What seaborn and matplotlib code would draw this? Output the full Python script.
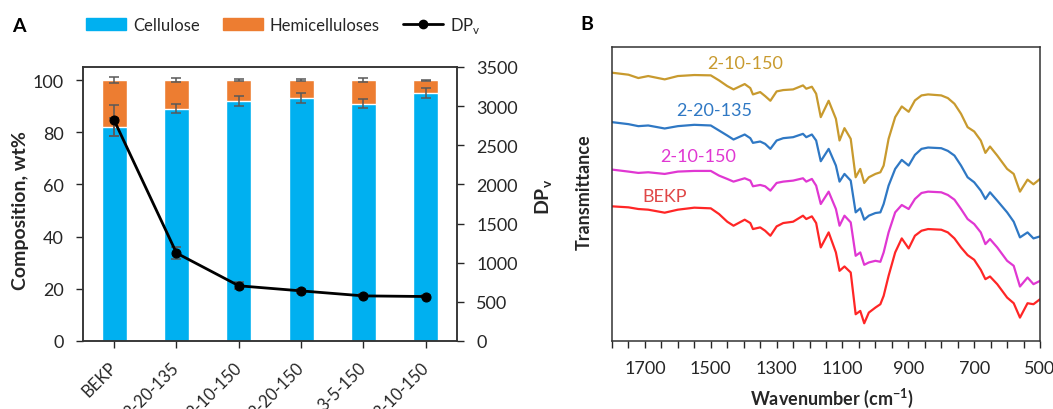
import matplotlib
matplotlib.use("Agg")
import matplotlib.pyplot as plt
from matplotlib.patches import Patch
from matplotlib.lines import Line2D
from matplotlib.ticker import MultipleLocator, FixedLocator
import numpy as np
import pandas as pd
import seaborn as sns

# panel A: composition and DPv
samples = ["BEKP", "2-20-135", "2-10-150", "2-20-150", "3-5-150", "3-10-150"]
cellulose = [82, 89, 92, 93, 91, 95]
hemicelluloses = [18, 11, 8, 7, 9, 5]
cellulose_err = [3.4, 1.8, 1.8, 1.9, 1.8, 1.9]
hemi_err = [1.1, 0.7, 0.5, 0.3, 0.6, 0.2]
dpv = [2820, 1123, 705, 640, 576, 568]
dpv_err = [200, 75, 45, 25, 20, 20]

# panel B: FTIR spectra (transmittance, a.u., offset as in the figure)
wavenumber = [1800, 1750, 1720, 1690, 1640, 1600, 1550, 1500, 1475, 1450,
              1431, 1397, 1380, 1372, 1350, 1335, 1319, 1300, 1280, 1250,
              1220, 1210, 1193, 1180, 1166, 1142, 1120, 1109, 1094, 1075,
              1060, 1046, 1034, 1020, 1000, 985, 975, 960, 940, 920,
              899, 880, 860, 840, 800, 780, 760, 740, 720, 700,
              680, 666, 652, 630, 600, 580, 561, 538, 520, 500]
t_gold = [80.3, 79.7, 78.7, 79.3, 78.3, 79.3, 79.6, 79.5, 78.0, 76.3,
          75.3, 76.9, 75.7, 73.8, 74.5, 73.3, 71.9, 74.7, 75.1, 75.3,
          76.5, 75.5, 76.1, 74.0, 67.0, 71.9, 66.5, 60.0, 63.7, 60.5,
          49.0, 51.5, 47.3, 49.0, 50.0, 50.5, 52.5, 60.5, 67.0, 70.2,
          68.6, 72.0, 73.5, 73.8, 73.5, 72.7, 71.0, 68.0, 64.0, 62.7,
          60.0, 56.3, 58.2, 55.5, 51.5, 50.0, 44.7, 48.3, 46.9, 48.5]
t_blue = [65.5, 64.9, 64.3, 64.5, 63.6, 64.3, 64.7, 64.5, 63.0, 61.5,
          60.3, 61.8, 60.7, 59.3, 59.7, 59.0, 57.5, 60.0, 60.7, 61.0,
          62.0, 61.0, 61.8, 60.0, 53.8, 57.5, 52.5, 47.7, 50.0, 48.0,
          38.5, 39.7, 36.3, 37.5, 38.3, 38.5, 41.0, 46.5, 51.5, 54.2,
          52.5, 55.7, 57.5, 57.9, 57.7, 56.9, 55.5, 52.5, 49.0, 47.5,
          45.0, 42.5, 44.5, 42.0, 38.5, 35.7, 31.0, 32.5, 30.7, 31.3]
t_magenta = [51.3, 50.7, 50.3, 50.5, 50.0, 50.7, 50.9, 50.9, 49.5, 48.5,
             47.7, 48.7, 48.0, 46.3, 46.7, 46.3, 45.0, 47.3, 47.7, 48.0,
             48.7, 47.7, 48.5, 46.5, 41.0, 44.7, 39.5, 34.5, 37.5, 35.5,
             25.5, 26.5, 22.8, 23.5, 24.0, 23.7, 26.5, 32.5, 38.5, 40.7,
             39.5, 42.5, 44.3, 44.7, 44.5, 43.7, 42.3, 39.5, 36.5, 35.0,
             32.5, 29.0, 30.5, 28.0, 24.0, 22.5, 16.3, 19.0, 17.0, 18.0]
t_red = [40.3, 40.0, 39.5, 39.3, 38.4, 39.3, 39.9, 39.7, 38.0, 35.7,
         34.5, 36.3, 35.3, 33.5, 34.0, 33.0, 31.5, 34.3, 35.3, 35.7,
         37.5, 36.5, 37.3, 35.3, 28.0, 32.5, 26.5, 21.0, 22.3, 20.5,
         8.0, 9.0, 5.3, 8.5, 10.0, 11.0, 13.5, 19.5, 26.5, 30.7,
         27.7, 31.5, 33.0, 33.5, 33.3, 32.5, 30.7, 28.0, 25.7, 24.3,
         21.3, 18.5, 19.3, 17.0, 13.0, 11.3, 7.0, 11.3, 11.0, 12.5]
spectra_names = ["2-10-150", "2-20-135", "2-10-150", "BEKP"]
label_wn = [1395, 1491, 1537, 1641]
label_t = [83.2, 69.2, 55.3, 43.3]

c_cell = "#00B0F0"
c_hemi = "#ED7D31"
c_err = "#595959"
spec_colors = ["#C89A2E", "#2F78C4", "#E037D2", "#FF2626"]
text_colors = ["#C89A2E", "#2F78C4", "#E037D2", "#E04848"]

sns.set_style("ticks")
plt.rcParams['font.family'] = ['Lato', 'DejaVu Sans']
plt.rcParams['mathtext.fontset'] = 'custom'
plt.rcParams['mathtext.rm'] = 'Lato'
plt.rcParams['mathtext.bf'] = 'Lato:bold'
dark = "#262626"

fig = plt.figure(figsize=(10.53, 4.10), dpi=100)
axA = fig.add_axes([0.0788, 0.1659, 0.3552, 0.6683])
axB = fig.add_axes([0.5812, 0.1659, 0.4065, 0.7171])

# ---- panel A
totals = [c + h for c, h in zip(cellulose, hemicelluloses)]
sns.barplot(x=samples, y=totals, color=c_hemi, saturation=1, width=0.4,
            errorbar=None, ax=axA)
sns.barplot(x=samples, y=cellulose, color=c_cell, saturation=1, width=0.4,
            errorbar=None, ax=axA)
xpos = np.arange(len(samples))
axA.errorbar(xpos, cellulose, yerr=cellulose_err, fmt="none", ecolor=c_err,
             elinewidth=1.1, capsize=3.5, capthick=1.1, zorder=3)
axA.errorbar(xpos, totals, yerr=hemi_err, fmt="none", ecolor=c_err,
             elinewidth=1.1, capsize=3.5, capthick=1.1, zorder=3)
axA.set_ylim(0, 105)
axA.set_xlim(-0.5, 5.5)
axA.set_yticks([0, 20, 40, 60, 80, 100])
axA.set_ylabel("Composition, wt%", fontsize=14, fontweight="bold", color=dark)
axA.yaxis.set_label_coords(-0.143, 0.48)
axA.set_xlabel("")
axA.tick_params(axis="both", direction="out", length=5, width=1, pad=9,
                labelsize=13, colors=dark)
axA.tick_params(axis="x", pad=12, labelsize=12)
for lab in axA.get_xticklabels():
    lab.set_rotation(45)
    lab.set_ha("right")
    lab.set_va("center")
    lab.set_rotation_mode("anchor")

axA2 = axA.twinx()
axA2.errorbar(xpos, dpv, yerr=dpv_err, fmt="none", ecolor=c_err,
              elinewidth=1.1, capsize=3.5, capthick=1.1, zorder=3)
sns.lineplot(x=xpos, y=dpv, color="black", lw=2, marker="o", markersize=6.5,
             markeredgecolor="black", ax=axA2, zorder=4)
axA2.set_ylim(0, 3500)
axA2.set_yticks(np.arange(0, 3501, 500))
axA2.set_ylabel(r"DP$_\mathbf{v}$", fontsize=14, fontweight="bold", color=dark)
axA2.yaxis.set_label_coords(1.205, 0.53)
axA2.tick_params(axis="y", direction="out", length=5, width=1, pad=9,
                 labelsize=13, colors=dark)
for ax in (axA, axA2):
    for s in ax.spines.values():
        s.set_visible(True)
        s.set_color("#333333")
        s.set_linewidth(1.1)

handles = [Patch(color=c_cell), Patch(color=c_hemi),
           Line2D([], [], color="black", lw=2, marker="o", markersize=6)]
fig.legend(handles, ["Cellulose", "Hemicelluloses", r"DP$_\mathregular{v}$"],
           loc="center left", bbox_to_anchor=(0.082, 1 - 26 / 410), ncol=3,
           frameon=False, fontsize=12, handlelength=2.4, handleheight=0.7,
           handletextpad=0.4, columnspacing=1.4, borderpad=0, borderaxespad=0)
fig.text(12 / 1053, 1 - 26 / 410, "A", fontsize=14, fontweight="bold",
         va="center", ha="left", color="black")

# ---- panel B
for vals, col in zip([t_gold, t_blue, t_magenta, t_red], spec_colors):
    sns.lineplot(x=wavenumber, y=vals, color=col, lw=1.6, sort=False,
                 estimator=None, ax=axB)
for name, w, t, col in zip(spectra_names, label_wn, label_t, text_colors):
    axB.text(w, t, name, color=col, fontsize=13, ha="center", va="center")
axB.set_xlim(1800, 500)
axB.set_ylim(0, 88)
axB.xaxis.set_major_locator(FixedLocator([1700, 1500, 1300, 1100, 900, 700, 500]))
axB.xaxis.set_minor_locator(MultipleLocator(50))
axB.set_yticks([])
axB.tick_params(axis="x", which="both", direction="out", length=5, width=1,
                colors=dark)
axB.tick_params(axis="x", which="major", pad=9, labelsize=13)
axB.set_xlabel(r"Wavenumber (cm$^{\mathbf{-1}}$)", fontsize=13,
               fontweight="bold", color=dark)
axB.xaxis.set_label_coords(0.514, -0.152)
axB.set_ylabel("Transmittance", fontsize=13, fontweight="bold", color=dark)
axB.yaxis.set_label_coords(-0.045, 0.51)
for s in axB.spines.values():
    s.set_visible(True)
    s.set_color("#333333")
    s.set_linewidth(1.1)
fig.text(580 / 1053, 1 - 25 / 410, "B", fontsize=14, fontweight="bold",
         va="center", ha="left", color="black")

fig.savefig("out.png", dpi=100)
